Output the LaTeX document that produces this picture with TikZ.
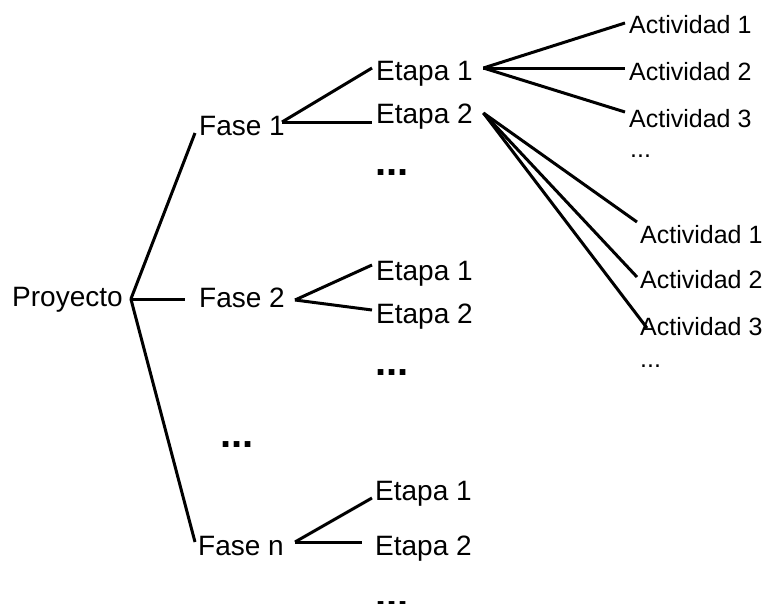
\documentclass[tikz,border=0pt]{standalone}
\usepackage{fontspec}
\setmainfont{Liberation Sans}
\begin{document}
\begin{tikzpicture}[x=1pt,y=-1pt,
  lbl/.style={anchor=base west,inner sep=0pt,font=\fontsize{28}{34}\selectfont},
  act/.style={anchor=base west,inner sep=0pt,font=\fontsize{25}{30}\selectfont},
  more/.style={anchor=base west,inner sep=0pt,font=\bfseries\fontsize{40}{48}\selectfont},
  link/.style={line width=3pt,black}]
\useasboundingbox (0,0) rectangle (766,603);

% project and phases
\node[lbl] (proy) at (12,306) {Proyecto};
\node[lbl] (f1) at (199,135) {Fase 1};
\node[lbl] (f2) at (199,307) {Fase 2};
\node[lbl] (fn) at (198,555) {Fase n};
\node[more] (fdots) at (220,447) {...};

% stages of each phase
\node[lbl] (e11) at (376,80) {Etapa 1};
\node[lbl] (e12) at (376,123) {Etapa 2};
\node[more] (e1dots) at (375,175) {...};
\node[lbl] (e21) at (376,280) {Etapa 1};
\node[lbl] (e22) at (376,323) {Etapa 2};
\node[more] (e2dots) at (375,375) {...};
\node[lbl] (en1) at (375,500) {Etapa 1};
\node[lbl] (en2) at (375,555) {Etapa 2};
\node[more] (endots) at (375,607) {...};

% activities
\node[act] (a11) at (629,33) {Actividad 1};
\node[act] (a12) at (629,80) {Actividad 2};
\node[act] (a13) at (629,127) {Actividad 3};
\node[act] (a1dots) at (630,157) {...};
\node[act] (a21) at (640,243) {Actividad 1};
\node[act] (a22) at (640,288) {Actividad 2};
\node[act] (a23) at (640,335) {Actividad 3};
\node[act] (a2dots) at (640,367) {...};

% branching points
\coordinate (pj) at ([shift={(8,-7)}]proy.base east);
\coordinate (f1j) at ([shift={(-3,-13)}]f1.base east);
\coordinate (f2j) at ([shift={(10,-7)}]f2.base east);
\coordinate (fnj) at ([shift={(11,-13)}]fn.base east);
\coordinate (e11j) at ([shift={(10.5,-12)}]e11.base east);
\coordinate (e12j) at ([shift={(10.5,-10)}]e12.base east);

% connectors
\draw[link] (pj) -- ([shift={(-4,-2)}]f1.base west);
\draw[link] (pj) -- ([shift={(-14,-8)}]f2.base west);
\draw[link] (pj) -- ([shift={(-3,-13)}]fn.base west);

\draw[link] (f1j) -- ([shift={(-4,-12)}]e11.base west);
\draw[link] (f1j) -- ([shift={(-4,-1)}]e12.base west);
\draw[link] (f2j) -- ([shift={(-4,-15)}]e21.base west);
\draw[link] (f2j) -- ([shift={(-4,-13)}]e22.base west);
\draw[link] (fnj) -- ([shift={(-3,-2)}]en1.base west);
\draw[link] (fnj) -- ([shift={(-13,-13)}]en2.base west);

\draw[link] (e11j) -- ([shift={(-4,-10)}]a11.base west);
\draw[link] (e11j) -- ([shift={(-4,-12)}]a12.base west);
\draw[link] (e11j) -- ([shift={(-4,-15)}]a13.base west);
\draw[link] (e12j) -- ([shift={(-3,-21)}]a21.base west);
\draw[link] (e12j) -- ([shift={(-3,-11)}]a22.base west);
\draw[link] (e12j) -- ([shift={(7,-7)}]a23.base west);
\end{tikzpicture}
\end{document}
